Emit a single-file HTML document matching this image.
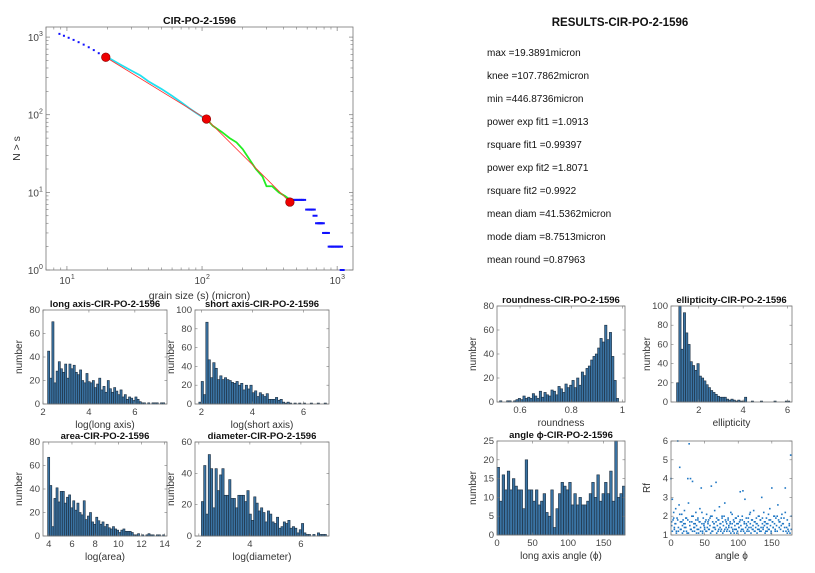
<!DOCTYPE html>
<html><head><meta charset="utf-8"><style>
html,body{margin:0;padding:0;background:#fff;overflow:hidden;}
svg{display:block;font-family:"Liberation Sans",Arial,sans-serif;}
.tk{font-size:10px;fill:#444;}
.ttl{font-size:10.5px;font-weight:bold;fill:#111;}
.lbl{font-size:10.5px;fill:#333;}
.res{font-size:10px;fill:#111;}
</style></head><body>
<svg id="fig" width="815" height="573" viewBox="0 0 815 573" xmlns="http://www.w3.org/2000/svg">
<g id="main"></g>
<g id="results">
<text x="620" y="26" text-anchor="middle" class="ttl" style="font-size:11.5px">RESULTS-CIR-PO-2-1596</text>
<text x="487" y="56" class="res">max =19.3891micron</text>
<text x="487" y="79" class="res">knee =107.7862micron</text>
<text x="487" y="102" class="res">min =446.8736micron</text>
<text x="487" y="125" class="res">power exp fit1 =1.0913</text>
<text x="487" y="148" class="res">rsquare fit1 =0.99397</text>
<text x="487" y="171" class="res">power exp fit2 =1.8071</text>
<text x="487" y="194" class="res">rsquare fit2 =0.9922</text>
<text x="487" y="217" class="res">mean diam =41.5362micron</text>
<text x="487" y="240" class="res">mode diam =8.7513micron</text>
<text x="487" y="263" class="res">mean round =0.87963</text>
</g>
</svg>
<script>
// ---- main cumulative plot data ----
const headS=[8.8,9.5,10.3,11.2,12.2,13.3,14.5,15.8,17.2,18.5];
const headN=[1100,1040,980,920,860,800,740,680,620,580];
const cyanS=[20,25,30,35,40,50,60,70,80,90,100,108];
const cyanN=[550,440,370,320,270,215,175,145,122,106,94,88];
const greenS=[108,120,140,160,180,200,220,250,280,300,330,370,410,450];
const greenN=[88,72,60,50,44,36,28,20,16,12,12,10,9,8];
const tailS=[460,480,500,520,540,560,600,620,640,660,680,710,730,750,770,800,820,840,880,900,930,960,990,1020,1050,1080];
const tailN=[8,8,8,8,8,8,6,6,6,6,5,4,4,4,4,3,3,3,2,2,2,2,2,2,2,1];
const fitS=[19.3891,107.7862,446.8736];
const fitN=[550,88,7.5];
const xTickExp=[1,2,3];
const yTickExp=[0,1,2,3];
// ---- histogram data ----
const longCounts=[45,22,70,18,28,36,30,27,34,22,34,30,33,27,25,29,20,18,26,19,18,20,14,17,22,12,15,10,20,13,10,14,11,8,12,6,8,4,6,5,3,6,4,2,1,1,0,1,0,1,1,1,0,1,1];
const shortCounts=[2,24,10,87,47,28,44,38,26,30,26,28,26,25,23,22,24,20,22,15,20,16,20,12,14,8,12,10,8,11,5,5,5,7,4,5,2,1,2,1,0,1,0,1,0,1,0,0,1,0,0,1,0,0,1];
const areaCounts=[67,43,8,32,41,29,38,38,28,33,35,24,30,22,28,20,18,30,14,17,20,12,10,16,13,10,12,8,10,7,6,8,6,5,3,5,6,4,4,4,3,1,1,2,0,1,0,1,2,1,1,0,1,1,0,1];
const diamCounts=[22,45,14,52,43,18,43,29,39,43,26,26,36,24,24,18,26,26,26,22,29,14,10,25,21,16,18,15,9,16,14,9,8,12,5,6,9,8,10,5,6,5,2,4,8,2,1,1,0,1,0,2,1,1,1];
const roundCounts=[1,0,0,1,1,0,1,2,3,2,5,3,4,3,7,5,3,9,4,8,6,5,10,9,6,13,11,8,15,12,14,18,12,20,14,25,22,28,30,35,38,40,45,53,50,64,52,58,38,18,3];
const ellipCounts=[20,100,55,93,72,60,42,38,33,40,27,25,22,18,15,12,10,8,6,5,5,5,3,2,3,2,1,2,1,1,5,0,0,1,0,0,0,1,0,0,0,0,0,1,0,0,0,0,1,1];
const angleCounts=[18,9,16,12,17,12,15,13,12,12,7,20,12,12,9,12,8,9,11,6,5,12,2,7,11,14,13,12,14,8,11,8,10,8,8,9,11,14,10,16,9,11,14,11,17,9,25,10,11,13];
// ---- scatter data ----
const scAngle=[0,2,10,13,25,27,29,32,45,60,67,103,107,135,150,170,178,
1,3,4,5,6,7,8,9,11,12,14,15,16,17,18,19,20,21,22,23,24,26,28,30,31,33,34,35,36,37,38,39,40,41,42,43,44,46,47,48,49,50,51,52,53,54,55,56,57,58,59,61,62,63,64,65,66,68,69,70,71,72,73,74,75,76,77,78,79,80,81,82,83,84,85,86,87,88,89,90,91,92,93,94,95,96,97,98,99,100,101,102,104,105,106,108,109,110,111,112,113,114,115,116,117,118,119,120,121,122,123,124,125,126,127,128,129,130,131,132,133,134,136,137,138,139,140,141,142,143,144,145,146,147,148,149,151,152,153,154,155,156,157,158,159,160,161,162,163,164,165,166,167,168,169,171,172,173,174,175,176,177,179,
2,5,8,11,14,17,20,23,26,29,32,35,38,41,44,47,50,53,56,59,62,65,68,71,74,77,80,83,86,89,92,95,98,101,104,107,110,113,116,119,122,125,128,131,134,137,140,143,146,149,152,155,158,161,164,167,170,173,176,179,
1,4,7,10,13,16,19,22,25,28,31,34,37,40,43,46,49,52,55,58,61,64,67,70,73,76,79,82,85,88,91,94,97,100,103,106,109,112,115,118,121,124,127,130,133,136,139,142,145,148,151,154,157,160,163,166,169,172,175,178];
const scRf=[4,2.9,6,4.6,4,5.85,4,3.85,3.5,3.6,3.8,3.3,3.35,3,3.5,3.5,5.25,
1.5,1.8,2.2,1.3,1.6,2.4,1.2,1.9,1.4,2.6,1.7,1.3,2.1,1.5,1.8,1.2,2.3,1.6,1.4,1.9,1.1,2.7,1.5,1.3,1.7,2.0,1.4,1.2,1.6,2.2,1.5,1.3,1.8,1.1,1.7,2.4,1.4,1.6,1.2,1.9,1.5,1.3,1.7,1.2,2.1,1.4,1.6,1.8,1.3,1.5,2.0,1.2,1.7,1.4,1.6,2.3,1.3,1.9,1.5,1.2,1.8,2.5,1.4,1.6,1.3,2.0,1.7,1.5,1.2,2.7,1.8,1.4,1.6,1.3,1.9,1.5,1.2,1.7,2.2,1.4,1.6,1.3,1.8,1.1,1.5,1.9,1.3,1.6,1.2,2.0,1.4,1.7,1.5,1.3,1.8,1.2,1.6,2.9,1.4,1.9,1.5,1.3,1.7,1.2,2.1,1.6,1.4,1.8,1.3,1.5,2.3,1.2,1.7,1.4,1.9,1.6,1.3,1.5,2.0,1.2,1.8,1.4,1.6,1.3,2.2,1.5,1.7,1.2,1.9,1.4,1.6,1.3,1.8,2.4,1.5,1.2,1.7,1.4,2.0,1.6,1.3,1.9,1.5,1.2,2.6,1.8,1.4,1.7,1.3,1.5,2.1,1.6,1.2,1.9,1.4,
1.2,1.4,1.1,1.3,1.2,1.5,1.1,1.3,1.2,1.4,1.1,1.2,1.3,1.1,1.4,1.2,1.1,1.3,1.2,1.4,1.1,1.3,1.2,1.1,1.4,1.2,1.3,1.1,1.2,1.4,1.1,1.3,1.2,1.1,1.3,1.2,1.4,1.1,1.2,1.3,1.1,1.4,1.2,1.3,1.1,1.2,1.4,1.1,1.3,1.2,1.1,1.3,1.2,1.4,1.1,1.2,1.3,1.1,1.4,1.2,
2.0,1.7,1.9,1.6,2.2,1.8,1.6,2.0,1.7,1.9,1.6,1.8,2.1,1.7,1.6,1.9,1.8,1.7,2.0,1.6,1.8,1.9,1.7,2.2,1.6,1.8,1.7,1.9,2.0,1.6,1.7,1.8,1.6,1.9,2.0,1.7,1.8,1.6,2.1,1.7,1.9,1.6,1.8,2.0,1.7,1.6,1.9,2.2,1.8,1.7,1.6,2.0,1.8,1.9,1.7,1.6,2.1,1.8,1.7,2.0];

const NS="http://www.w3.org/2000/svg";
const fig=document.getElementById('fig');
function mk(tag,attrs,parent){const e=document.createElementNS(NS,tag);for(const k in attrs)e.setAttribute(k,attrs[k]);(parent||fig).appendChild(e);return e;}
function txt(x,y,s,cls,anchor,parent){const t=mk('text',{x:x,y:y,class:cls,'text-anchor':anchor||'middle'},parent);t.textContent=s;return t;}

// ===== main plot =====
const main=document.getElementById('main');
const M={l:46,r:353,t:27,b:270};
const lx0=Math.log10(7.0), lx1=Math.log10(1310), ly0=0, ly1=3.13;
function mx(s){return M.l+(Math.log10(s)-lx0)/(lx1-lx0)*(M.r-M.l);}
function my(n){return M.b-(Math.log10(n)-ly0)/(ly1-ly0)*(M.b-M.t);}
const mbox=mk('rect',{x:M.l,y:M.t,width:M.r-M.l,height:M.b-M.t,fill:'#fff',stroke:'#777','stroke-width':0.8},main);


for(let e=0;e<3;e++){for(let k=2;k<=9;k++){const v=k*Math.pow(10,e);
 const yy=my(v);mk('line',{x1:M.l,x2:M.l+2.5,y1:yy,y2:yy,stroke:'#777','stroke-width':0.6},main);mk('line',{x1:M.r,x2:M.r-2.5,y1:yy,y2:yy,stroke:'#777','stroke-width':0.6},main);
 const xv=k*Math.pow(10,e);if(xv>=7&&xv<=1310){const xx=mx(xv);mk('line',{x1:xx,x2:xx,y1:M.b,y2:M.b-2.5,stroke:'#777','stroke-width':0.6},main);mk('line',{x1:xx,x2:xx,y1:M.t,y2:M.t+2.5,stroke:'#777','stroke-width':0.6},main);}
}}
xTickExp.forEach(e=>{const xx=mx(Math.pow(10,e));
 mk('line',{x1:xx,x2:xx,y1:M.b,y2:M.b-4,stroke:'#777','stroke-width':0.7},main);
 mk('line',{x1:xx,x2:xx,y1:M.t,y2:M.t+4,stroke:'#777','stroke-width':0.7},main);
 const t=txt(xx-2,M.b+14,'10','tk','middle',main);
 
 
 const s=txt(xx+4,M.b+9,String(e),'tk','start',main);s.style.fontSize='7px';});
yTickExp.forEach(e=>{const yy=my(Math.pow(10,e));
 mk('line',{x1:M.l,x2:M.l+4,y1:yy,y2:yy,stroke:'#777','stroke-width':0.7},main);
 mk('line',{x1:M.r,x2:M.r-4,y1:yy,y2:yy,stroke:'#777','stroke-width':0.7},main);
 const t=txt(M.l-7,yy+4,'10','tk','end',main);
 
 
 const s=txt(M.l-7,yy-1,String(e),'tk','start',main);s.style.fontSize='7px';});
const mt=txt((M.l+M.r)/2,24,'CIR-PO-2-1596','ttl','middle',main);


const mxl=txt((M.l+M.r)/2,299,'grain size (s) (micron)','lbl','middle',main);


const myl=txt(0,0,'N > s','lbl','middle',main);
myl.setAttribute('transform','translate(20,'+((M.t+M.b)/2)+') rotate(-90)');


function dots(S,N,col,name){S.forEach((s,i)=>{const d=mk('rect',{x:mx(s)-1,y:my(N[i])-1,width:2,height:2,fill:col},main);
 
 });}
dots(headS,headN,'#1010ff','head-point');
tailS.forEach((s,i)=>{const d=mk('rect',{x:mx(s)-2,y:my(tailN[i])-1,width:5,height:2,fill:'#1010ff'},main);
 
 });
function poly(S,N,col,w,name){const p=mk('polyline',{points:S.map((s,i)=>mx(s)+','+my(N[i])).join(' '),fill:'none',stroke:col,'stroke-width':w},main);
 
 }
poly(cyanS,cyanN,'#22e0f0',1.8,'fit1-data-line');
poly(greenS,greenN,'#22ee22',1.8,'fit2-data-line');
poly(fitS,fitN,'#ff3030',0.8,'fit-line');
fitS.forEach((s,i)=>{const c=mk('circle',{cx:mx(s),cy:my(fitN[i]),r:4.3,fill:'#ee0000',stroke:'#800','stroke-width':0.6},main);
 
 });

// ===== histograms =====
function hist(cfg){
 const g=mk('g',{},fig);
 
 
 const {l,r,t,b,xmin,xmax,ymax}=cfg;
 const X=v=>l+(v-xmin)/(xmax-xmin)*(r-l), Y=v=>b-v/ymax*(b-t);
 mk('rect',{x:l,y:t,width:r-l,height:b-t,fill:'#fff'},g);
 if(cfg.counts){const w=(cfg.hi-cfg.lo)/cfg.counts.length;
  cfg.counts.forEach((c,i)=>{if(c<=0)return;const x0=X(cfg.lo+i*w),x1=X(cfg.lo+(i+1)*w);const y=Y(Math.min(c,ymax));
   const bar=mk('rect',{x:x0,y:y,width:Math.max(x1-x0,0.5),height:b-y,fill:'#3a73a3',stroke:'#1c2c3c','stroke-width':0.6},g);
   
   });}
 if(cfg.px){const n=Math.min(cfg.px.length,cfg.py.length);
  for(let i=0;i<n;i++){const a=cfg.px[i];const d=mk('rect',{x:X(a)-0.8,y:Y(cfg.py[i]-1)-0.8,width:1.6,height:1.6,fill:'#1f77c4'},g);
   
   }}
 mk('rect',{x:l,y:t,width:r-l,height:b-t,fill:'none',stroke:'#777','stroke-width':0.8},g);
 cfg.xt.forEach(v=>{const xx=X(v);mk('line',{x1:xx,x2:xx,y1:b,y2:b-2.5,stroke:'#777','stroke-width':0.6},g);mk('line',{x1:xx,x2:xx,y1:t,y2:t+2.5,stroke:'#777','stroke-width':0.6},g);
  const tl=txt(xx,b+11,String(v),'tk','middle',g);tl.style.fontSize='9.5px';
  
  });
 cfg.yt.forEach(v=>{const yy=Y(v-(cfg.yoff||0));mk('line',{x1:l,x2:l+2.5,y1:yy,y2:yy,stroke:'#777','stroke-width':0.6},g);mk('line',{x1:r,x2:r-2.5,y1:yy,y2:yy,stroke:'#777','stroke-width':0.6},g);
  const tl=txt(l-3,yy+3,String(v),'tk','end',g);tl.style.fontSize='9.5px';
  
  });
 if(cfg.title){const tt=txt((l+r)/2,t-3,cfg.title,'ttl','middle',g);tt.style.fontSize='9.5px';
  
  }
 const xl=txt((l+r)/2,b+24,cfg.xlabel,'lbl','middle',g);xl.style.fontSize='10px';
 
 
 const yl=txt(0,0,cfg.ylabel,'lbl','middle',g);yl.style.fontSize='10px';
 yl.setAttribute('transform','translate('+(l-21)+','+((t+b)/2)+') rotate(-90)');
 
 
}
hist({name:'long-axis-histogram',l:43,r:167,t:310,b:404,xmin:2,xmax:7.4,ymax:80,counts:longCounts,lo:2.2,hi:7.3,xt:[2,4,6],yt:[0,20,40,60,80],title:'long axis-CIR-PO-2-1596',xlabel:'log(long axis)',ylabel:'number'});
hist({name:'short-axis-histogram',l:195,r:329,t:310,b:404,xmin:1.75,xmax:7,ymax:100,counts:shortCounts,lo:1.9,hi:6.9,xt:[2,4,6],yt:[0,20,40,60,80,100],title:'short axis-CIR-PO-2-1596',xlabel:'log(short axis)',ylabel:'number'});
hist({name:'area-histogram',l:43,r:167,t:442,b:536,xmin:3.5,xmax:14.2,ymax:80,counts:areaCounts,lo:3.9,hi:14,xt:[4,6,8,10,12,14],yt:[0,20,40,60,80],title:'area-CIR-PO-2-1596',xlabel:'log(area)',ylabel:'number'});
hist({name:'diameter-histogram',l:195,r:329,t:442,b:536,xmin:1.85,xmax:7.1,ymax:60,counts:diamCounts,lo:2.1,hi:7.0,xt:[2,4,6],yt:[0,20,40,60],title:'diameter-CIR-PO-2-1596',xlabel:'log(diameter)',ylabel:'number'});
hist({name:'roundness-histogram',l:497,r:625,t:306,b:402,xmin:0.51,xmax:1.01,ymax:80,counts:roundCounts,lo:0.52,hi:0.985,xt:[0.6,0.8,1],yt:[0,20,40,60,80],title:'roundness-CIR-PO-2-1596',xlabel:'roundness',ylabel:'number'});
hist({name:'ellipticity-histogram',l:671,r:792,t:306,b:402,xmin:0.75,xmax:6.2,ymax:100,counts:ellipCounts,lo:1.0,hi:6.1,xt:[2,4,6],yt:[0,20,40,60,80,100],title:'ellipticity-CIR-PO-2-1596',xlabel:'ellipticity',ylabel:'number'});
hist({name:'angle-histogram',l:497,r:625,t:441,b:535,xmin:0,xmax:180,ymax:25,counts:angleCounts,lo:0,hi:180,xt:[0,50,100,150],yt:[0,5,10,15,20,25],title:'angle \u03d5-CIR-PO-2-1596',xlabel:'long axis angle (\u03d5)',ylabel:'number'});
hist({name:'rf-angle-scatter',l:671,r:792,t:441,b:535,xmin:0,xmax:180,ymax:5,yoff:1,px:scAngle,py:scRf,xt:[0,50,100,150],yt:[1,2,3,4,5,6],title:'',xlabel:'angle \u03d5',ylabel:'Rf'});
</script>
</body></html>
